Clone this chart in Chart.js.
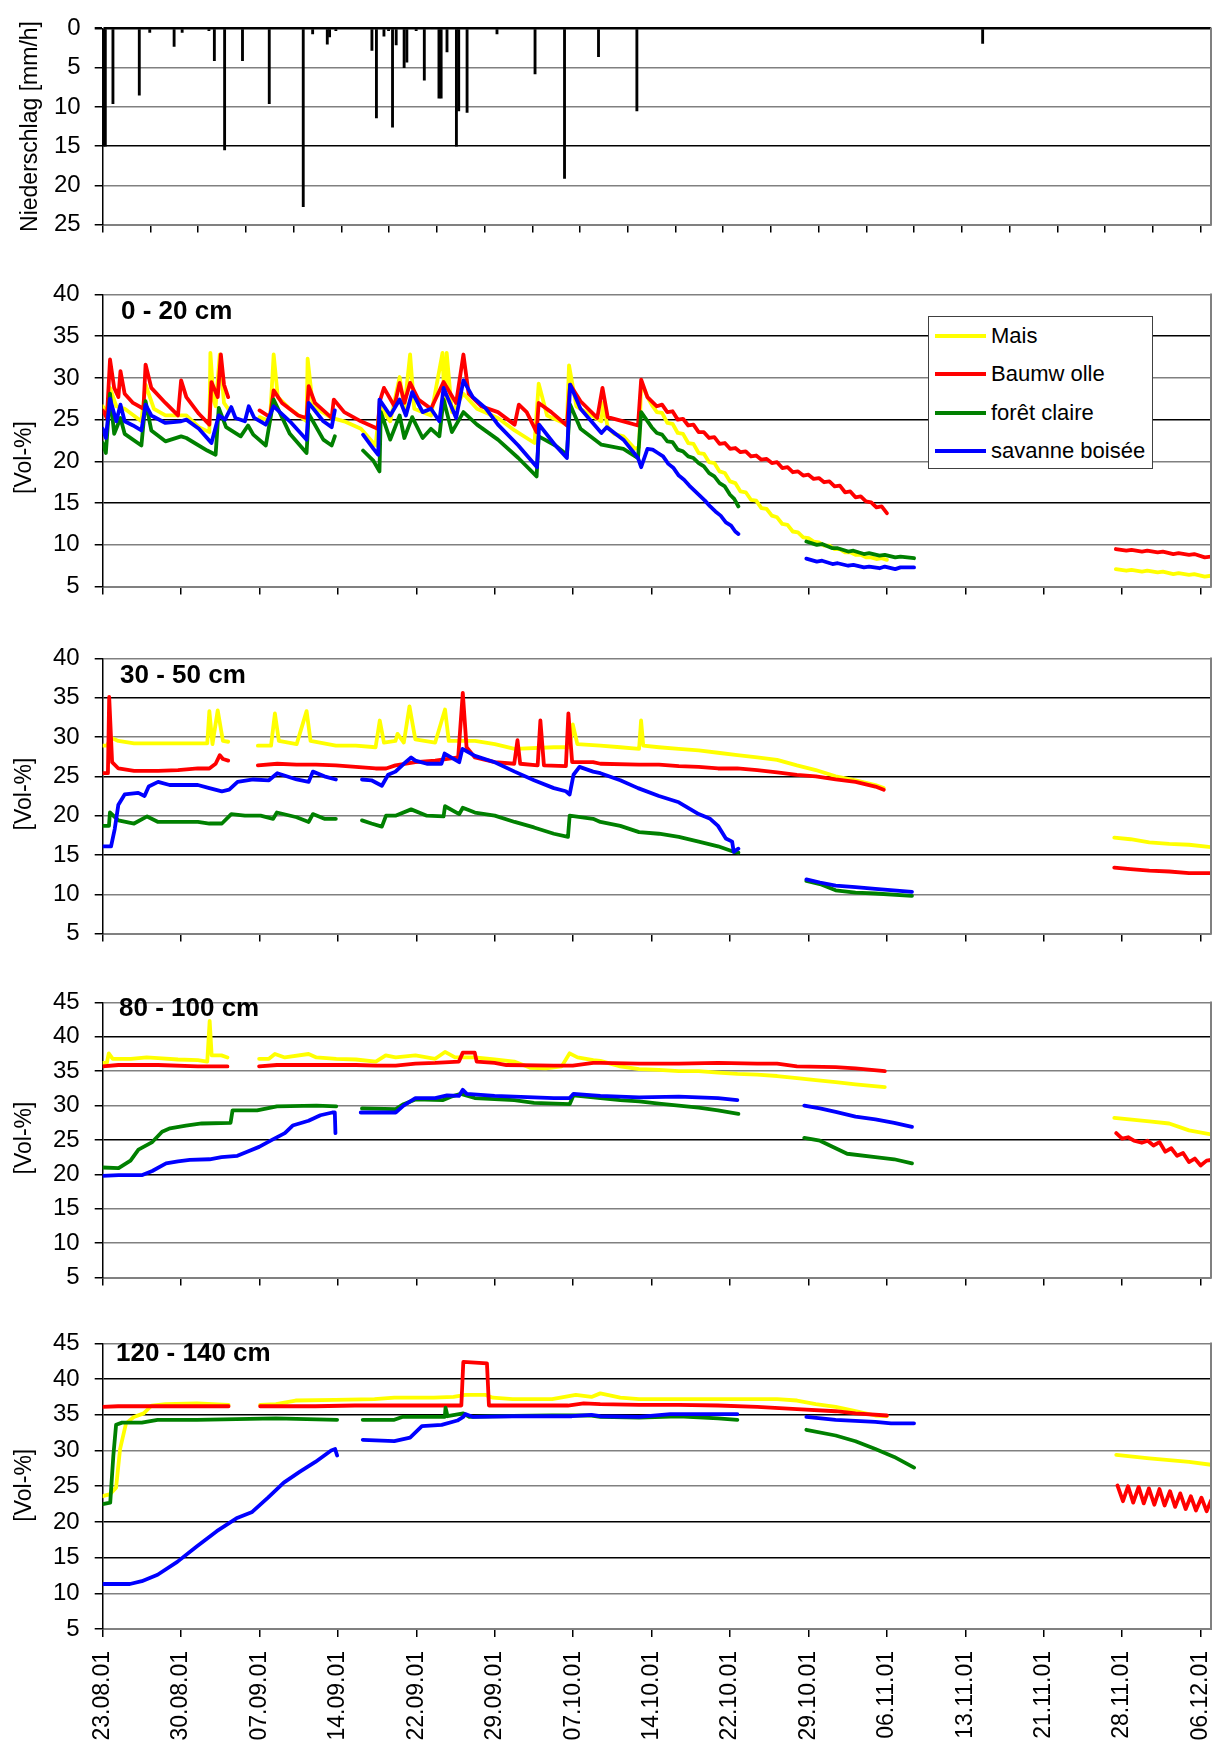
<!DOCTYPE html>
<html><head><meta charset="utf-8">
<script src="https://cdn.jsdelivr.net/npm/chart.js@4.4.1/dist/chart.umd.min.js"></script>
<style>
html,body{margin:0;padding:0;background:#fff;width:1215px;height:1746px;overflow:hidden;font-family:"Liberation Sans",Arial,sans-serif;}
.pane{position:absolute;left:0;}
.pane canvas{display:block;}
.lbl{position:absolute;font-weight:bold;font-size:26px;line-height:26px;color:#000;white-space:nowrap;}
#legend{position:absolute;left:928px;top:316px;width:225px;height:153px;border:1.5px solid #404040;background:#fff;box-sizing:border-box;}
.li{position:absolute;left:6px;height:24px;font-size:22px;line-height:24px;white-space:nowrap;color:#000;}
.sw{display:inline-block;width:51px;height:4px;vertical-align:middle;margin-right:5px;position:relative;top:-1px;}
</style></head><body>
<div class="pane" style="top:0px"><canvas id="c1" width="1215" height="253" style="width:1215px;height:253px"></canvas></div>
<div class="pane" style="top:265px"><canvas id="c2" width="1215" height="351" style="width:1215px;height:351px"></canvas></div>
<div class="pane" style="top:629px"><canvas id="c3" width="1215" height="334" style="width:1215px;height:334px"></canvas></div>
<div class="pane" style="top:973px"><canvas id="c4" width="1215" height="334" style="width:1215px;height:334px"></canvas></div>
<div class="pane" style="top:1314px"><canvas id="c5" width="1215" height="432" style="width:1215px;height:432px"></canvas></div>
<div class="lbl" style="left:121px;top:297px">0 - 20 cm</div>
<div class="lbl" style="left:120px;top:661px">30 - 50 cm</div>
<div class="lbl" style="left:119px;top:994px">80 - 100 cm</div>
<div class="lbl" style="left:116px;top:1339px">120 - 140 cm</div>
<div id="legend"></div>
<script>
// ---------- data (x = days since 23.08.01) ----------
const dayTicks = ['23.08.01','30.08.01','07.09.01','14.09.01','22.09.01','29.09.01','07.10.01','14.10.01','22.10.01','29.10.01','06.11.01','13.11.01','21.11.01','28.11.01','06.12.01'];
const seriesNames = ['Mais','Baumw olle','forêt claire','savanne boisée'];
const seriesColors = ['#FFFF00','#FF0000','#008000','#0000FF'];

const precipEvents = [[0.05,15.0],[0.12,3.5],[0.25,15.0],[0.98,9.6],[3.5,8.5],[4.5,0.5],[6.83,2.3],[7.6,0.5],[10.16,0.3],[10.68,4.1],[11.66,15.5],[13.37,4.1],[15.93,9.6],[19.18,22.7],[20.08,0.7],[21.48,2.0],[21.7,1.1],[22.3,0.3],[25.75,2.8],[26.18,11.4],[26.9,1.0],[27.34,0.3],[27.72,12.6],[28.07,2.1],[28.83,5.0],[29.09,4.3],[29.98,0.3],[30.76,6.6],[32.16,8.9],[32.37,8.9],[32.93,3.0],[33.83,15.0],[34.05,10.5],[34.85,10.7],[37.71,0.7],[41.35,5.8],[44.17,19.1],[47.42,3.6],[51.09,10.5],[84.16,1.9]];

// 0 - 20 cm
const mais20 = [[0,26.6],[0.4,25.9],[0.7,28.8],[1.3,26.6],[2.1,26.3],[3.7,24.8],[4.1,29.2],[4.9,26.3],[6.0,25.5],[8.0,25.5],[9.2,24.1],[10.2,23.5],[10.3,33.0],[10.6,27.4],[10.8,26.6],[11.2,32.8],[11.6,27.0],[12.0,26.3],[13.5,null],[15.0,25.3],[16.0,24.8],[16.35,32.8],[16.75,27.7],[17.9,26.3],[19.5,24.8],[19.6,32.3],[20.1,26.6],[21.9,25.2],[23.1,24.8],[24.7,23.9],[26.1,21.9],[26.5,26.6],[27.5,24.8],[28.4,30.1],[28.85,26.3],[29.4,32.8],[29.8,26.3],[31.4,25.5],[32.5,33.0],[32.7,26.5],[32.9,33.0],[33.4,25.9],[34.5,28.1],[35.8,26.3],[37.8,25.2],[39.4,23.7],[41.3,22.2],[41.7,29.3],[42.5,25.5],[44.4,24.4],[44.6,31.5],[45.3,26.6],[47.7,24.8],[47.85,27.0],[48.3,24.1],[48.9,23.3],[49.8,23.0],[50.9,21.5],[51.3,21.7],[51.5,29.5],[52.1,27.7],[52.5,26.8],[53.0,25.9],[53.5,25.8],[54.0,24.6],[54.5,24.5],[55.0,23.4],[55.5,23.3],[56.0,22.2],[56.5,22.1],[57.0,21.0],[57.5,20.9],[58.0,19.9],[58.5,19.8],[59.0,18.8],[59.5,18.6],[60.0,17.6],[60.5,17.4],[61.0,16.4],[61.5,16.3],[62.0,15.4],[62.5,15.3],[63.0,14.4],[63.5,14.3],[64.0,13.5],[64.5,13.3],[65.0,12.5],[65.5,12.4],[66.0,11.6],[66.5,11.5],[67.0,10.9],[67.5,10.8],[68.0,10.4],[68.5,10.3],[69.0,9.9],[69.5,9.9],[70.0,9.5],[70.5,9.5],[71.0,9.1],[71.5,9.1],[72.0,8.8],[72.5,8.8],[73.0,8.5],[73.5,8.5],[74.0,8.3],[74.5,8.4],[75.0,8.2],[86,null],[96.9,7.1],[97.9,6.9],[98.4,7.0],[99.4,6.8],[99.9,6.9],[100.9,6.7],[101.4,6.8],[102.4,6.5],[102.9,6.6],[103.9,6.4],[104.4,6.5],[105.4,6.2],[106,6.3]];
const baum20 = [[0,26.1],[0.4,25.2],[0.7,32.2],[1.1,28.8],[1.5,27.7],[1.7,30.8],[2.1,28.1],[2.9,27.0],[3.9,26.3],[4.1,31.6],[4.65,28.8],[6.0,27.0],[7.2,25.5],[7.5,29.7],[8.0,27.7],[9.2,25.7],[10.2,24.4],[10.4,29.5],[11.0,27.7],[11.3,32.8],[11.6,29.2],[12.0,27.7],[13.5,null],[15.0,26.1],[16.0,25.3],[16.35,28.5],[17.15,27.0],[18.7,25.5],[19.5,25.2],[19.7,29.0],[20.3,27.0],[21.9,25.2],[22.1,27.4],[23.1,25.9],[24.7,24.8],[26.3,23.9],[26.5,27.2],[26.9,28.8],[27.9,26.6],[28.4,29.4],[28.85,27.0],[29.4,29.4],[30.2,27.4],[31.4,26.3],[32.6,29.5],[33.8,27.0],[34.5,32.8],[35.0,28.1],[36.2,26.6],[37.8,25.9],[39.4,24.4],[39.8,26.8],[40.55,25.9],[41.5,23.5],[41.7,27.0],[42.9,25.9],[44.4,24.3],[44.7,29.2],[45.7,27.2],[47.3,25.2],[47.8,28.8],[48.3,25.3],[49.8,24.8],[51.2,24.3],[51.5,29.8],[52.1,27.7],[53.0,26.6],[53.5,26.8],[54.0,25.9],[54.5,26.0],[55.0,25.0],[55.5,25.1],[56.0,24.3],[56.5,24.4],[57.0,23.5],[57.5,23.5],[58.0,22.8],[58.5,22.9],[59.0,22.1],[59.5,22.2],[60.0,21.5],[60.5,21.6],[61.0,21.1],[61.5,21.2],[62.0,20.6],[62.5,20.7],[63.0,20.2],[63.5,20.3],[64.0,19.8],[64.5,19.9],[65.0,19.2],[65.5,19.3],[66.0,18.7],[66.5,18.8],[67.0,18.3],[67.5,18.4],[68.0,17.9],[68.5,18.0],[69.0,17.5],[69.5,17.6],[70.0,17.0],[70.5,17.1],[71.0,16.3],[71.5,16.4],[72.0,15.7],[72.5,15.8],[73.0,15.2],[73.5,15.1],[74.0,14.5],[74.5,14.6],[75.0,13.8],[86,null],[96.9,9.5],[97.9,9.3],[98.4,9.4],[99.4,9.2],[99.9,9.3],[100.9,9.1],[101.4,9.2],[102.4,8.9],[102.9,9.0],[103.9,8.8],[104.4,8.9],[105.4,8.5],[106,8.6]];
const foret20 = [[0,22.2],[0.3,21.0],[0.7,28.1],[1.1,23.3],[1.7,25.2],[2.1,23.3],[3.7,21.9],[4.1,27.2],[4.65,23.7],[6.0,22.4],[7.5,23.0],[8.0,22.8],[10.0,21.3],[10.8,20.8],[11.1,26.4],[11.8,24.1],[13.2,23.0],[13.9,24.3],[14.4,23.2],[15.6,21.9],[16.35,27.4],[17.9,23.3],[19.5,21.0],[19.7,25.7],[21.1,22.6],[21.9,21.9],[22.2,23.0],[23.5,null],[24.9,21.3],[25.9,20.05],[26.47,18.8],[26.6,25.9],[27.5,22.6],[28.4,25.5],[28.85,22.8],[29.6,25.3],[30.6,22.8],[31.4,23.9],[32.2,23.0],[32.6,27.4],[33.4,23.5],[34.5,25.9],[35.8,24.4],[37.8,22.6],[39.75,20.4],[41.5,18.2],[41.7,23.0],[43.3,21.9],[44.4,20.8],[44.7,26.8],[45.7,23.9],[47.7,22.0],[49.8,21.5],[51.2,20.4],[51.5,25.9],[52.5,24.1],[53.0,23.4],[53.5,23.2],[54.0,22.4],[54.5,22.3],[55.0,21.4],[55.5,21.2],[56.0,20.6],[56.5,20.4],[57.0,19.8],[57.5,19.4],[58.0,18.6],[58.5,18.2],[59.0,17.4],[59.5,17.0],[60.0,16.0],[60.4,15.5],[60.8,14.6],[64,null],[67.3,10.4],[68.3,10.0],[68.8,10.1],[69.8,9.6],[70.3,9.6],[71.3,9.2],[71.8,9.3],[72.8,8.9],[73.3,9.0],[74.3,8.7],[74.8,8.8],[75.8,8.5],[76.3,8.6],[77.6,8.4]];
const sav20 = [[0,23.9],[0.3,22.8],[0.7,27.5],[1.3,24.8],[1.7,26.8],[2.1,24.8],[2.9,24.3],[3.7,23.7],[4.1,26.8],[4.65,25.5],[6.0,24.6],[7.5,24.8],[8.0,25.0],[9.2,23.9],[10.4,22.2],[11.1,25.5],[11.7,25.0],[12.3,26.5],[12.7,25.2],[13.6,24.8],[13.97,26.6],[14.5,25.2],[15.6,24.4],[16.35,26.6],[17.9,24.8],[19.5,22.6],[19.7,27.0],[21.1,24.8],[21.9,24.1],[22.2,26.1],[23.5,null],[24.9,23.2],[25.9,21.5],[26.35,20.8],[26.47,27.4],[27.5,25.5],[28.4,27.4],[29.0,25.5],[29.6,28.3],[30.6,25.9],[31.4,26.3],[32.2,24.8],[32.6,28.8],[33.8,25.2],[34.5,29.7],[35.4,27.7],[36.6,26.4],[37.8,24.4],[39.75,21.9],[41.54,19.3],[41.74,24.4],[43.3,21.9],[44.4,20.4],[44.7,29.2],[45.7,26.3],[47.7,23.4],[48.2,24.1],[49.8,22.6],[51.2,20.4],[51.5,19.3],[52.1,21.5],[52.6,21.4],[53.1,21.0],[53.6,20.6],[54.1,19.7],[54.6,19.2],[55.1,18.3],[55.6,17.8],[56.1,17.1],[56.6,16.5],[57.1,15.9],[57.6,15.3],[58.1,14.6],[58.6,14.0],[59.1,13.5],[59.6,12.7],[60.1,12.3],[60.5,11.6],[60.8,11.3],[64,null],[67.3,8.35],[68.3,8.0],[68.8,8.1],[69.8,7.7],[70.3,7.8],[71.3,7.5],[71.8,7.6],[72.8,7.3],[73.3,7.4],[74.3,7.2],[74.8,7.4],[75.8,7.1],[76.3,7.3],[77.6,7.3]];

// 30 - 50 cm
const mais50 = [[0,28.9],[0.4,28.9],[0.8,29.9],[1.5,29.5],[3,29.2],[10.0,29.2],[10.2,33.3],[10.5,29.1],[11.0,33.4],[11.5,29.5],[12.0,29.4],[13.5,null],[14.84,28.9],[16.1,28.9],[16.47,33.0],[16.85,29.5],[18.55,29.1],[19.5,33.3],[19.88,29.5],[22.3,28.9],[24.2,28.9],[26.1,28.7],[26.5,32.1],[26.9,29.3],[28.0,29.5],[28.2,30.4],[28.8,29.3],[29.34,33.9],[29.9,29.7],[31.8,29.3],[32.74,33.5],[33.1,29.5],[35.6,29.5],[37.5,29.1],[39.4,28.5],[43.15,28.7],[44.66,28.7],[44.96,31.6],[45.4,29.1],[47.6,28.9],[49.5,28.7],[51.3,28.5],[51.49,32.1],[51.7,28.9],[53.2,28.7],[55.1,28.5],[57.0,28.3],[58.85,28.0],[60.7,27.7],[62.6,27.4],[64.5,27.1],[66.4,26.4],[68.2,25.8],[70.1,25.0],[72.0,24.5],[73.9,23.9],[74.7,23.5],[86,null],[96.75,17.2],[98.3,17.0],[100.1,16.6],[102.0,16.4],[103.9,16.3],[106,16.0]];
const baum50 = [[0,25.4],[0.5,25.4],[0.62,35.1],[0.9,26.8],[1.5,26.0],[3.0,25.7],[5.3,25.7],[7.2,25.8],[9.1,26.0],[10.2,26.0],[10.8,26.6],[11.2,27.7],[11.5,27.2],[12.0,27.0],[13.5,null],[14.84,26.4],[16.7,26.6],[18.55,26.5],[20.4,26.5],[22.3,26.4],[24.2,26.2],[26.1,26.0],[27.1,26.0],[28.0,26.4],[29.9,26.8],[31.8,27.0],[34.0,27.4],[34.44,35.6],[34.8,28.7],[35.6,27.4],[37.5,26.8],[39.36,26.6],[39.67,29.6],[39.93,26.6],[41.6,26.4],[41.86,32.1],[42.2,26.4],[44.3,26.3],[44.54,33.0],[44.9,26.8],[46.9,26.8],[47.6,26.6],[51.3,26.5],[53.2,26.5],[55.1,26.3],[57.0,26.2],[58.85,26.0],[60.7,26.0],[62.6,25.8],[64.5,25.5],[66.4,25.2],[68.2,25.0],[70.1,24.6],[72.0,24.3],[73.9,23.7],[74.7,23.3],[86,null],[96.75,13.4],[98.3,13.2],[100.1,13.0],[102.0,12.9],[103.9,12.7],[106,12.7]];
const foret50 = [[0,18.7],[0.6,18.7],[0.69,20.4],[1.5,19.4],[3.0,19.0],[4.25,19.9],[5.3,19.2],[9.1,19.2],[10.2,19.0],[11.4,19.0],[12.3,20.2],[13.6,20.0],[15.1,20.0],[16.3,19.6],[16.66,20.4],[18.55,19.8],[19.7,19.2],[20.1,20.2],[21.2,19.6],[22.3,19.6],[23.5,null],[24.8,19.4],[25.7,19.0],[26.7,18.6],[27.1,20.0],[28.0,20.0],[29.5,20.8],[31.0,20.0],[32.6,19.9],[32.74,21.2],[34.1,20.2],[34.44,21.0],[35.6,20.4],[37.5,20.0],[39.4,19.2],[41.25,18.5],[43.15,17.7],[44.5,17.3],[44.66,20.0],[46.9,19.6],[47.6,19.2],[49.5,18.7],[51.3,17.9],[53.2,17.7],[55.1,17.3],[57.0,16.7],[58.85,16.1],[60.35,15.4],[60.8,15.3],[64,null],[67.3,11.7],[68.6,11.3],[70.1,10.5],[72.0,10.2],[73.9,10.1],[77.4,9.8]];
const sav50 = [[0,16.1],[0.8,16.1],[1.15,18.3],[1.5,21.4],[2.1,22.7],[3.4,22.9],[4.0,22.5],[4.4,23.7],[5.3,24.3],[6.4,23.9],[9.1,23.9],[10.2,23.5],[11.4,23.1],[12.1,23.3],[12.9,24.3],[14.4,24.6],[15.9,24.5],[16.7,25.4],[18.55,24.6],[19.7,24.3],[20.1,25.6],[21.2,25.0],[22.3,24.6],[23.5,null],[24.8,24.6],[25.7,24.5],[26.7,23.8],[27.3,25.2],[28.0,25.6],[28.8,26.6],[29.5,27.4],[29.9,27.0],[31.0,26.6],[32.4,26.6],[32.7,27.9],[34.1,26.8],[34.4,28.5],[35.6,27.6],[37.5,26.8],[39.4,25.6],[41.25,24.5],[43.15,23.5],[44.3,23.1],[44.66,22.7],[45.03,25.2],[45.6,26.2],[46.9,25.6],[47.6,25.4],[49.5,24.5],[51.2,23.5],[53.2,22.5],[55.1,21.7],[57.0,20.2],[58.1,19.6],[58.85,18.7],[59.6,17.1],[60.2,16.7],[60.35,15.4],[60.8,15.8],[64,null],[67.3,11.9],[68.6,11.5],[70.1,11.1],[72.0,10.9],[73.9,10.7],[77.4,10.3]];

// 80 - 100 cm
const mais100 = [[0,36.2],[0.4,36.2],[0.58,37.6],[0.96,36.8],[2.7,36.8],[4.2,37.0],[5.3,36.9],[7.2,36.7],[9.1,36.6],[10.0,36.4],[10.23,42.3],[10.42,37.3],[11.36,37.3],[11.93,37.0],[13.5,null],[14.96,36.8],[15.9,36.8],[16.47,37.5],[17.42,37.0],[19.69,37.5],[20.44,37.0],[22.34,36.8],[24.23,36.7],[26.12,36.4],[27.07,37.3],[28.02,37.0],[29.91,37.3],[31.8,36.8],[32.74,37.8],[33.7,37.0],[35.58,37.0],[37.48,36.7],[39.36,36.4],[40.88,35.5],[42.39,35.4],[43.9,35.7],[44.66,37.6],[45.41,37.0],[46.92,36.6],[47.6,36.5],[49.5,35.7],[51.3,35.3],[53.2,35.2],[55.1,35.0],[57.0,35.0],[58.85,34.8],[60.7,34.6],[62.6,34.5],[64.5,34.3],[66.4,34.0],[68.2,33.7],[70.1,33.4],[72.0,33.1],[74.8,32.7],[86,null],[96.75,28.2],[100.1,27.7],[102.0,27.4],[103.9,26.4],[106,25.8]];
const baum100 = [[0,35.7],[1.5,35.9],[5.3,35.9],[9.1,35.7],[11.93,35.7],[13.5,null],[14.96,35.7],[16.66,35.9],[20.44,35.9],[24.23,35.9],[26.12,35.8],[28.02,35.8],[29.91,36.1],[31.8,36.2],[34.07,36.4],[34.44,37.7],[35.58,37.7],[35.77,36.4],[37.48,36.2],[38.61,35.9],[43.15,35.8],[44.96,35.8],[46.92,36.2],[47.6,36.2],[51.3,36.1],[55.1,36.1],[58.85,36.2],[62.6,36.1],[64.5,36.1],[66.4,35.7],[70.1,35.6],[72.0,35.4],[74.8,35.0],[86,null],[96.94,26.0],[97.5,25.2],[98.07,25.4],[98.63,24.9],[99.38,24.6],[99.95,24.9],[100.5,24.2],[101.07,24.7],[101.63,23.3],[102.2,23.8],[102.76,22.7],[103.33,23.1],[103.89,21.8],[104.45,22.3],[105.01,21.3],[105.58,22.0],[106,22.1]];
const foret100 = [[0,21.0],[1.52,20.9],[2.66,22.0],[3.42,23.6],[4.74,24.7],[5.68,26.2],[6.44,26.7],[7.96,27.1],[9.47,27.4],[12.23,27.5],[12.42,29.3],[14.77,29.3],[16.66,29.9],[20.44,30.0],[22.34,29.9],[23.5,null],[24.8,29.6],[28.02,29.5],[28.77,30.2],[29.91,30.9],[32.56,30.8],[33.31,31.3],[34.26,31.7],[35.58,31.1],[39.36,30.8],[41.25,30.4],[44.66,30.2],[45.03,31.5],[46.92,31.2],[47.6,31.1],[49.5,30.8],[51.3,30.6],[53.2,30.3],[55.1,30.0],[57.0,29.7],[58.85,29.3],[60.8,28.8],[64,null],[67.1,25.3],[68.6,24.9],[70.1,23.8],[71.2,23.0],[73.9,22.5],[75.7,22.2],[77.4,21.6]];
const sav100 = [[0,19.8],[1.52,19.9],[3.79,19.9],[4.74,20.5],[6.06,21.6],[7.2,21.9],[8.33,22.1],[10.23,22.2],[11.36,22.5],[12.88,22.7],[13.82,23.3],[14.96,24.0],[16.28,25.1],[17.42,26.0],[18.17,27.1],[19.69,27.8],[20.82,28.6],[21.96,29.0],[22.2,29.0],[22.26,26.0],[23.5,null],[24.68,29.0],[28.02,29.0],[28.77,30.0],[29.91,31.1],[31.8,31.1],[32.93,31.5],[34.07,31.4],[34.44,32.3],[34.82,31.7],[37.48,31.4],[39.36,31.3],[43.15,31.1],[44.66,31.1],[45.03,31.7],[46.92,31.5],[47.6,31.4],[51.3,31.2],[55.1,31.3],[58.85,31.1],[60.7,30.8],[64,null],[67.1,30.0],[68.6,29.6],[70.1,29.1],[72.0,28.4],[73.9,28.0],[75.7,27.5],[77.4,26.9]];

// 120 - 140 cm
const mais140 = [[0,23.6],[0.72,23.9],[1.28,24.8],[1.66,30.2],[2.23,33.8],[2.98,34.7],[3.92,35.2],[4.68,36.3],[6.0,36.5],[9.02,36.6],[12.04,36.4],[13.5,null],[15.06,36.4],[16.57,36.5],[18.45,37.0],[22.23,37.1],[26.0,37.2],[27.89,37.4],[31.66,37.4],[33.55,37.5],[34.68,37.8],[36.57,37.8],[37.32,37.4],[39.21,37.2],[42.98,37.2],[45.25,37.8],[46.75,37.5],[47.59,38.0],[49.5,37.4],[51.3,37.2],[55.1,37.2],[58.85,37.2],[62.6,37.2],[64.5,37.2],[66.4,37.0],[68.2,36.5],[70.1,36.1],[72.0,35.5],[73.9,34.9],[75.0,34.8],[86,null],[96.94,29.4],[100.1,28.9],[103.9,28.4],[106,28.0]];
const baum140 = [[0,36.1],[1.47,36.2],[12.04,36.2],[13.5,null],[15.06,36.2],[20.34,36.2],[24.11,36.3],[34.3,36.3],[34.49,42.4],[36.75,42.2],[36.94,36.3],[39.21,36.3],[44.49,36.3],[46.0,36.6],[47.59,36.5],[51.3,36.4],[55.1,36.4],[58.85,36.3],[62.6,36.1],[66.4,35.8],[70.1,35.5],[72.0,35.2],[75.0,34.9],[86,null],[97.05,25.1],[97.58,22.9],[98.07,25.0],[98.56,22.7],[99.08,24.9],[99.57,22.6],[100.06,24.7],[100.58,22.4],[101.07,24.6],[101.56,22.3],[102.08,24.3],[102.57,22.1],[103.06,24.0],[103.58,21.8],[104.07,23.6],[104.56,21.6],[105.09,23.4],[105.58,21.5],[106,23.0]];
const foret140 = [[0,22.5],[0.72,22.7],[1.02,29.3],[1.28,33.6],[1.85,33.9],[3.74,33.9],[5.25,34.3],[9.02,34.3],[16.57,34.5],[22.42,34.3],[23.5,null],[24.87,34.3],[27.89,34.3],[28.64,34.7],[32.72,34.7],[32.79,36.0],[32.98,34.8],[34.49,35.2],[35.06,34.7],[37.32,34.8],[42.98,34.9],[46.75,34.9],[47.59,34.7],[51.3,34.6],[55.1,34.8],[58.85,34.5],[60.7,34.3],[64,null],[67.3,32.9],[70.1,32.1],[72.0,31.3],[73.9,30.2],[75.7,29.1],[77.6,27.6]];
const sav140 = [[0,11.3],[2.6,11.3],[3.74,11.7],[5.25,12.6],[7.13,14.4],[9.02,16.6],[10.91,18.7],[12.79,20.5],[14.3,21.4],[15.81,23.4],[17.32,25.5],[18.83,27.0],[20.34,28.4],[21.85,30.0],[22.23,30.2],[22.42,29.3],[23.5,null],[24.87,31.5],[27.89,31.3],[29.4,31.8],[30.53,33.4],[32.42,33.6],[33.92,34.2],[34.49,34.7],[34.68,35.1],[35.43,34.7],[39.21,34.8],[44.87,34.8],[46.75,35.0],[47.59,34.8],[51.3,34.7],[54.3,35.1],[60.7,35.1],[64,null],[67.3,34.7],[70.1,34.3],[73.9,34.0],[75.4,33.8],[77.6,33.8]];

// ---------- chart building ----------
const FONT = "'Liberation Sans', Arial, sans-serif";
Chart.defaults.font.family = FONT;
Chart.defaults.color = '#000';
const AXIS_LEFT = 102.7;
const toXY = arr => arr.map(p => ({x: p[0], y: p[1]}));

const framePlugin = {
  id: 'frame',
  afterDraw(chart) {
    const {ctx, chartArea: a} = chart;
    ctx.save();
    ctx.strokeStyle = '#808080';
    ctx.lineWidth = 2;
    ctx.beginPath(); ctx.moveTo(a.right, a.top - 1); ctx.lineTo(a.right, a.bottom + 1); ctx.stroke();
    ctx.restore();
  }
};

// vertical axis title drawn at a chosen x, centred on the plot (+ optional shift)
const vTitlePlugin = {
  id: 'vtitle',
  afterDraw(chart, args, o) {
    if (!o || !o.text) return;
    const {ctx, chartArea: a} = chart;
    ctx.save();
    ctx.font = o.size + 'px ' + FONT;
    ctx.fillStyle = '#000';
    ctx.textAlign = 'center';
    ctx.textBaseline = 'middle';
    ctx.translate(o.x, (a.top + a.bottom) / 2 + (o.dy || 0));
    ctx.rotate(-Math.PI / 2);
    ctx.fillText(o.text, 0, 0);
    ctx.restore();
  }
};

function yGrid(dark) {
  return {
    color: c => (c.tick && dark.includes(c.tick.value)) ? '#000' : '#808080',
    lineWidth: c => (c.tick && c.tick.value === 0) ? 2.5 : 1.5,
    tickLength: 8, tickColor: '#000', drawTicks: true
  };
}

function soilPanel(id, ymax, series, dark, showLabels, axisH, titleDy) {
  const datasets = series.map((d, i) => ({
    label: seriesNames[i], data: toXY(d),
    borderColor: seriesColors[i], backgroundColor: seriesColors[i],
    borderWidth: 3.8, pointRadius: 0, tension: 0, spanGaps: false,
    borderJoinStyle: 'round', borderCapStyle: 'round', order: 3 - i
  }));
  new Chart(document.getElementById(id), {
    type: 'line',
    data: {datasets},
    options: {
      responsive: false, animation: false, events: [], devicePixelRatio: 1,
      layout: {padding: {top: 20, right: 4, left: 0, bottom: 0}},
      plugins: {legend: {display: false}, tooltip: {enabled: false},
                vtitle: {text: '[Vol-%]', size: 23, x: 25, dy: titleDy}},
      scales: {
        x: {
          type: 'linear', min: 0, max: 106, offset: false,
          afterBuildTicks: s => { s.ticks = dayTicks.map((_, i) => ({value: i * 7.5})); },
          ticks: {display: showLabels, autoSkip: false, minRotation: 90, maxRotation: 90, padding: 14,
                  font: {size: 23, family: FONT}, color: '#000', callback: (v, i) => dayTicks[i]},
          grid: {drawOnChartArea: false, drawTicks: true, tickLength: 8, tickColor: '#000', lineWidth: 1.5, offset: false},
          border: {display: true, color: '#808080', width: 2},
          afterFit: s => { s.height = axisH; s.paddingLeft = 0; s.paddingRight = 0; }
        },
        y: {
          min: 5, max: ymax,
          ticks: {stepSize: 5, padding: 15, font: {size: 24, family: FONT}, color: '#000'},
          grid: yGrid(dark),
          border: {display: true, color: '#000', width: 1.5},
          afterFit: s => { s.width = AXIS_LEFT; }
        }
      }
    },
    plugins: [framePlugin, vTitlePlugin]
  });
}

// precipitation panel
new Chart(document.getElementById('c1'), {
  type: 'bar',
  data: {datasets: [{label: 'Niederschlag', data: toXY(precipEvents), backgroundColor: '#000', borderWidth: 0, barThickness: 2.2, grouped: false}]},
  options: {
    responsive: false, animation: false, events: [], devicePixelRatio: 1,
    layout: {padding: {top: 19, right: 4, left: 0, bottom: 0}},
    plugins: {legend: {display: false}, tooltip: {enabled: false},
              vtitle: {text: 'Niederschlag [mm/h]', size: 23, x: 31, dy: 0}},
    scales: {
      x: {
        type: 'linear', min: 0, max: 106, offset: false,
        afterBuildTicks: s => { s.ticks = Array.from({length: 24}, (_, k) => ({value: k * 105 / 23})); },
        ticks: {display: false},
        grid: {drawOnChartArea: false, drawTicks: true, tickLength: 8, tickColor: '#000', lineWidth: 1.5, offset: false},
        border: {display: true, color: '#808080', width: 2},
        afterFit: s => { s.height = 12; s.paddingLeft = 0; s.paddingRight = 0; }
      },
      y: {
        reverse: true, min: 0, max: 25, beginAtZero: true,
        ticks: {stepSize: 5, padding: 14, font: {size: 24, family: FONT}, color: '#000'},
        grid: yGrid([0, 15]),
        border: {display: true, color: '#000', width: 1.5},
        afterFit: s => { s.width = AXIS_LEFT; }
      }
    }
  },
  plugins: [framePlugin, vTitlePlugin]
});

soilPanel('c2', 40, [mais20, baum20, foret20, sav20], [35, 25, 15], false, 12, 17);
soilPanel('c3', 40, [mais50, baum50, foret50, sav50], [35, 25, 15], false, 12, -2);
soilPanel('c4', 45, [mais100, baum100, foret100, sav100], [40, 25, 20], false, 12, -2);
soilPanel('c5', 45, [mais140, baum140, foret140, sav140], [40, 35, 20, 15], true, 117, -1);

// legend (inside 0 - 20 cm panel)
const lg = document.getElementById('legend');
const legendTops = [7, 45, 84, 122];
seriesNames.forEach((n, i) => {
  const d = document.createElement('div');
  d.className = 'li';
  d.style.top = legendTops[i] + 'px';
  d.innerHTML = '<span class="sw" style="background:' + seriesColors[i] + '"></span>' + n;
  lg.appendChild(d);
});
</script>
</body></html>
